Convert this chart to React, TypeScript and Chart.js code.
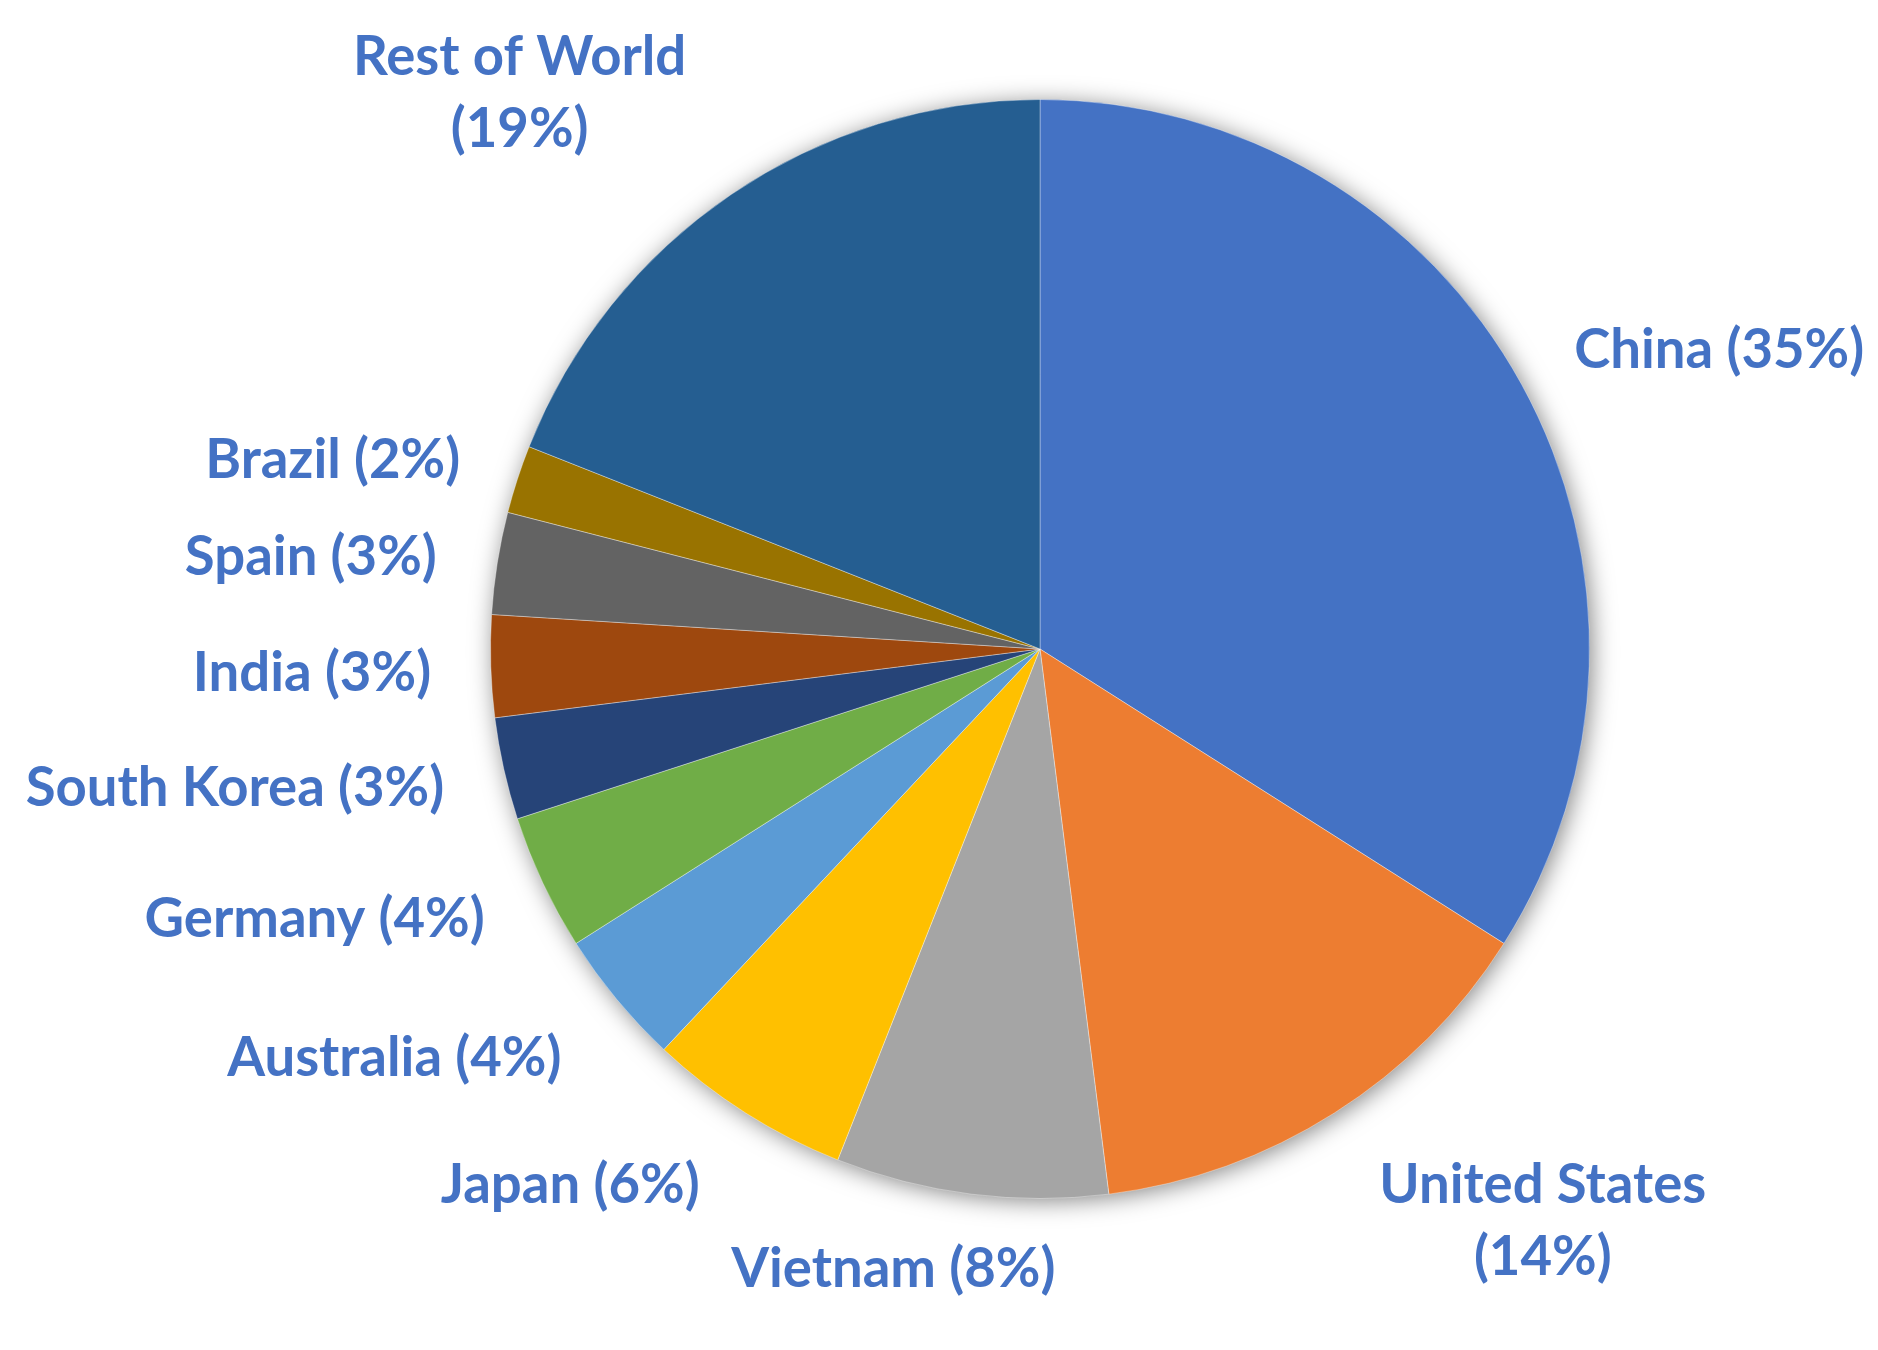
import React, { useEffect, useRef } from "react";
import { Chart, registerables } from "chart.js";

Chart.register(...registerables);

// ---- data ----
const countries = [
  "China",
  "United States",
  "Vietnam",
  "Japan",
  "Australia",
  "Germany",
  "South Korea",
  "India",
  "Spain",
  "Brazil",
  "Rest of World",
];
const shares = [34.0, 14.0, 8.0, 6.0, 4.0, 4.0, 3.0, 3.0, 3.0, 2.0, 19.0];
const labelPercents = [35, 14, 8, 6, 4, 4, 3, 3, 3, 2, 19];
const labelLines = [
  ["China (35%)"],
  ["United States", "(14%)"],
  ["Vietnam (8%)"],
  ["Japan (6%)"],
  ["Australia (4%)"],
  ["Germany (4%)"],
  ["South Korea (3%)"],
  ["India (3%)"],
  ["Spain (3%)"],
  ["Brazil (2%)"],
  ["Rest of World", "(19%)"],
];

// ---- style / layout ----
const sliceColors = [
  "#4472C4",
  "#ED7D31",
  "#A5A5A5",
  "#FFC000",
  "#5B9BD5",
  "#70AD47",
  "#264478",
  "#9E480E",
  "#636363",
  "#997300",
  "#255E91",
];
// label block centers, relative to pie center in units of radius
const labelAnchors: [number, number][] = [
  [1.236, -0.544],
  [0.915, 1.041],
  [-0.267, 1.129],
  [-0.855, 0.976],
  [-1.175, 0.745],
  [-1.32, 0.493],
  [-1.465, 0.253],
  [-1.325, 0.044],
  [-1.327, -0.167],
  [-1.287, -0.344],
  [-0.947, -1.011],
];
const LABEL_FONT = "bold 54.5px Lato, 'Open Sans', sans-serif";
const LABEL_COLOR = "#4472C4";
const LINE_HEIGHT = 72;

const shadowPlugin = {
  id: "pieShadow",
  beforeDatasetsDraw(chart: any) {
    const meta = chart.getDatasetMeta(0);
    const arc = meta.data[0];
    if (!arc) return;
    const { x, y, outerRadius } = arc.getProps(["x", "y", "outerRadius"], true);
    const ctx = chart.ctx;
    ctx.save();
    ctx.shadowColor = "rgba(0,0,0,0.5)";
    ctx.shadowBlur = 24;
    ctx.shadowOffsetX = 3;
    ctx.shadowOffsetY = 3;
    ctx.fillStyle = "#ffffff";
    ctx.beginPath();
    ctx.arc(x, y, outerRadius - 1, 0, Math.PI * 2);
    ctx.fill();
    ctx.restore();
  },
};

const labelPlugin = {
  id: "outerLabels",
  afterDatasetsDraw(chart: any) {
    const meta = chart.getDatasetMeta(0);
    const arc = meta.data[0];
    if (!arc) return;
    const { x, y, outerRadius } = arc.getProps(["x", "y", "outerRadius"], true);
    const ctx = chart.ctx;
    ctx.save();
    ctx.font = LABEL_FONT;
    ctx.fillStyle = LABEL_COLOR;
    ctx.textAlign = "center";
    ctx.textBaseline = "middle";
    labelLines.forEach((lines, i) => {
      const [fx, fy] = labelAnchors[i];
      const cx = x + fx * outerRadius;
      const cy = y + fy * outerRadius;
      const top = cy - ((lines.length - 1) * LINE_HEIGHT) / 2;
      lines.forEach((t, j) => ctx.fillText(t, cx, top + j * LINE_HEIGHT));
    });
    ctx.restore();
  },
};

export default function App() {
  const ref = useRef<HTMLCanvasElement | null>(null);
  useEffect(() => {
    document.body.style.margin = "0";
    const canvas = ref.current;
    if (!canvas) return;
    const chart = new Chart(canvas, {
      type: "pie",
      data: {
        labels: countries.map((c, i) => `${c} (${labelPercents[i]}%)`),
        datasets: [
          {
            data: shares,
            backgroundColor: sliceColors,
            borderColor: "rgba(255,255,255,0.35)",
            borderWidth: 1,
          },
        ],
      },
      options: {
        responsive: false,
        animation: false,
        layout: { padding: { left: 490, right: 288, top: 99, bottom: 151 } },
        plugins: {
          legend: { display: false },
          tooltip: { enabled: false },
        },
      },
      plugins: [shadowPlugin, labelPlugin],
    });
    return () => chart.destroy();
  }, []);
  return (
    <div style={{ width: 1878, height: 1350, background: "#ffffff" }}>
      <canvas ref={ref} width={1878} height={1350} style={{ display: "block" }} />
    </div>
  );
}
